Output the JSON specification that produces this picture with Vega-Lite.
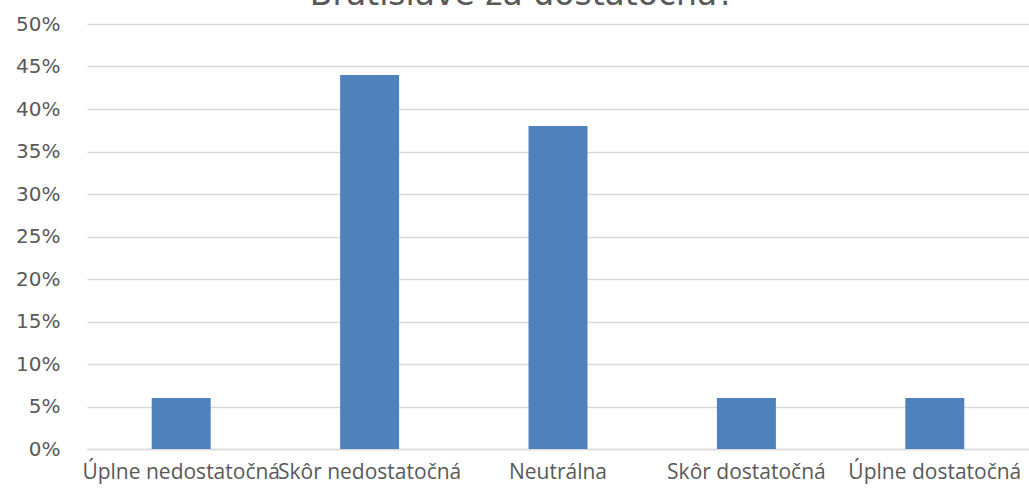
{
  "$schema": "https://vega.github.io/schema/vega-lite/v6.json",
  "width": 942,
  "height": 425,
  "autosize": {"type": "none"},
  "padding": {"left": 87, "top": 24, "right": 0, "bottom": 43},
  "background": "white",
  "title": {
    "text": "Bratislave za dostatočná?",
    "fontSize": 33,
    "font": "DejaVu Sans",
    "fontWeight": "normal",
    "color": "#595959",
    "anchor": "middle",
    "frame": "bounds",
    "offset": 2
  },
  "data": {
    "values": [
      {"kategoria": "Úplne nedostatočná", "podiel": 0.06},
      {"kategoria": "Skôr nedostatočná", "podiel": 0.44},
      {"kategoria": "Neutrálna", "podiel": 0.38},
      {"kategoria": "Skôr dostatočná", "podiel": 0.06},
      {"kategoria": "Úplne dostatočná", "podiel": 0.06}
    ]
  },
  "mark": {"type": "bar", "color": "#4F81BD"},
  "encoding": {
    "x": {
      "field": "kategoria",
      "type": "nominal",
      "sort": null,
      "scale": {"paddingInner": 0.687, "paddingOuter": 0.3435},
      "axis": {
        "title": null,
        "labelAngle": 0,
        "labelFont": "Open Sans",
        "labelFontSize": 21,
        "labelColor": "#595959",
        "labelPadding": 12,
        "labelOverlap": false,
        "ticks": false,
        "domain": true,
        "domainColor": "#d9d9d9",
        "domainWidth": 1.5,
        "labelLimit": 0
      }
    },
    "y": {
      "field": "podiel",
      "type": "quantitative",
      "scale": {"domain": [0, 0.5]},
      "axis": {
        "title": null,
        "values": [0, 0.05, 0.1, 0.15, 0.2, 0.25, 0.3, 0.35, 0.4, 0.45, 0.5],
        "format": ".0%",
        "labelFont": "DejaVu Sans",
        "labelFontSize": 20,
        "labelColor": "#595959",
        "labelPadding": 27,
        "labelOverlap": false,
        "ticks": false,
        "domain": false,
        "gridColor": "#d9d9d9",
        "gridWidth": 1.5
      }
    }
  },
  "config": {"view": {"stroke": null}}
}
